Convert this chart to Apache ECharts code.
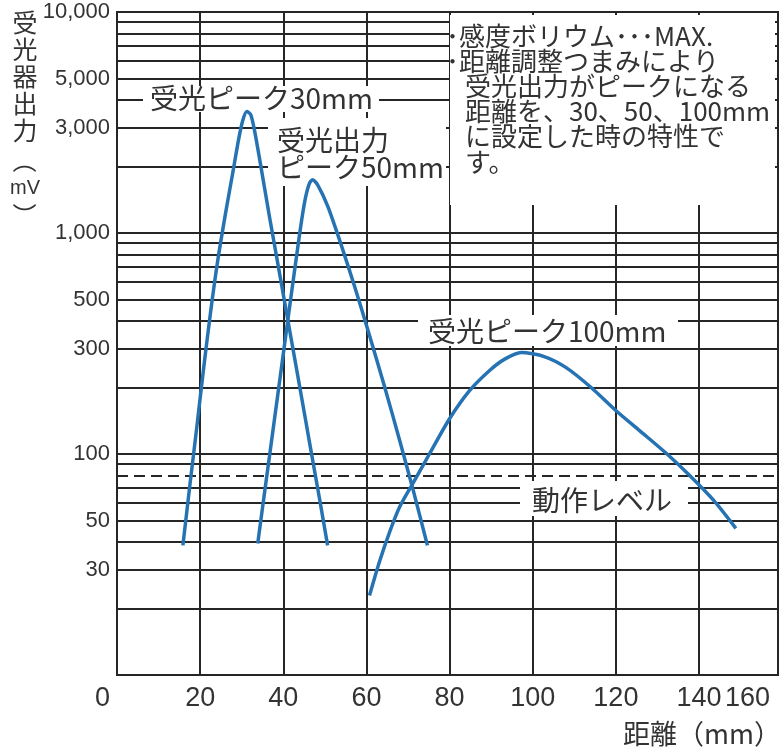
<!DOCTYPE html>
<html><head><meta charset="utf-8">
<script src="https://cdn.jsdelivr.net/npm/echarts@6/dist/echarts.min.js"></script>
<style>html,body{margin:0;padding:0;background:#fff}#c{width:784px;height:753px}</style>
</head><body><div id="c"></div>
<script>
// ---- data (distance mm, receiver output mV) ----
const dist30  = [15.85, 17.53, 19.21, 20.89, 22.57, 24.25, 26.17, 27.85, 29.29, 30.25, 31.21, 32.17, 33.13, 34.33, 36.73, 39.14, 41.54, 43.94, 46.34, 48.74, 50.66];
const out30   = [38.6, 72.3, 133, 249, 447, 754, 1246, 1874, 2673, 3228, 3545, 3436, 2877, 2147, 1170, 651, 362, 202, 112, 62.4, 38.6];
const dist50  = [33.85, 35.77, 37.7, 39.62, 41.54, 43.22, 44.42, 45.38, 46.34, 47.06, 48.26, 50.66, 53.54, 57.14, 60.74, 64.35, 67.95, 71.31, 74.67];
const out50   = [39.4, 73.1, 135.5, 251, 466, 794, 1145, 1458, 1687, 1741, 1652, 1327, 929, 574, 344, 202, 116, 67.9, 38.6];
const dist100 = [60.74, 63.15, 65.55, 67.95, 71.07, 75.15, 79.95, 84.75, 89.56, 93.16, 97.24, 102.76, 108.04, 114.05, 120.05, 126.05, 132.05, 137.58, 143.58, 148.86];
const out100  = [22.9, 32.6, 44.2, 57.4, 73.1, 100, 144, 193, 238, 268, 288, 276, 246, 200, 157, 126, 101, 80.5, 61.5, 46.1];
const operatingLevel = 80;
const yMinorGrid = [20, 30, 40, 50, 60, 70, 90, 200, 300, 400, 500, 600, 700, 800, 900, 2000, 3000, 4000, 5000, 6000, 7000, 8000, 9000];
const yExtraLabelValues = [30, 50, 300, 500, 3000, 5000];
const yExtraLabelTexts  = ['30', '50', '300', '500', '3,000', '5,000'];
const yDecadeLabelValues = [100, 1000, 10000];
const yDecadeLabelTexts  = ['100', '1,000', '10,000'];

const CJK = '"Noto Sans CJK JP", "Noto Sans CJK SC", sans-serif';
const NUM = '"Liberation Sans Narrow", "Liberation Sans", Arial, sans-serif';
const LAT = '"Liberation Sans", Arial, sans-serif';
const TXT = '#333';
const GRID = '#262626';
const BLUE = '#2673b4';

function zip(a, b) { return a.map((v, i) => [v, b[i]]); }

const chart = echarts.init(document.getElementById('c'), null, {renderer: 'canvas'});

const yLabelStyle = {color: TXT, fontFamily: NUM, fontSize: 22};

const minorLineData = yMinorGrid.map(v => {
  const k = yExtraLabelValues.indexOf(v);
  return {
    yAxis: v,
    label: k >= 0 ? Object.assign({show: true, position: 'start', distance: 7, formatter: yExtraLabelTexts[k]}, yLabelStyle) : {show: false}
  };
});

function box(x, y, w, h) {
  return {type: 'rect', shape: {x: x, y: y, width: w, height: h}, style: {fill: '#fff'}, z: 10, silent: true};
}
function txt(x, y, text, size, extra) {
  return Object.assign({
    type: 'text', x: x, y: y, z: 11, silent: true,
    style: {text: text, fill: TXT, font: size + 'px ' + CJK, textAlign: 'left', textVerticalAlign: 'middle', align: 'left', verticalAlign: 'middle'}
  }, extra || {});
}
function ctxt(x, y, text, font, rot) {
  return {type: 'text', x: x, y: y, rotation: rot || 0, z: 11, silent: true,
    style: {text: text, fill: TXT, font: font, textAlign: 'center', textVerticalAlign: 'middle', align: 'center', verticalAlign: 'middle'}};
}

const curveStyle = {color: BLUE, width: 3.5};

const option = {
  animation: false,
  backgroundColor: '#fff',
  grid: {left: 117, right: 6, top: 12, bottom: 78, show: true, borderColor: GRID, borderWidth: 2, backgroundColor: '#fff'},
  xAxis: {
    type: 'value', min: 0, max: 159, interval: 20,
    axisLine: {show: false}, axisTick: {show: false},
    splitLine: {show: true, lineStyle: {color: GRID, width: 2}},
    axisLabel: {
      color: TXT, fontFamily: LAT, fontSize: 27, margin: 10,
      alignMinLabel: 'right', alignMaxLabel: 'right',
      formatter: function (v) { if (v >= 150) return '{r|160}'; if (v === 0) return '{l|0}'; return String(v); },
      rich: {
        r: {color: TXT, fontFamily: LAT, fontSize: 27, padding: [0, 8, 0, 0]},
        l: {color: TXT, fontFamily: LAT, fontSize: 27, padding: [0, 7, 0, 0]}
      }
    }
  },
  yAxis: {
    type: 'log', logBase: 10, min: 10, max: 10000,
    axisLine: {show: false}, axisTick: {show: false},
    splitLine: {show: true, lineStyle: {color: GRID, width: 2}},
    axisLabel: Object.assign({margin: 7, formatter: function (v) {
      const k = yDecadeLabelValues.indexOf(Math.round(v));
      return k >= 0 ? yDecadeLabelTexts[k] : '';
    }}, yLabelStyle)
  },
  series: [
    {type: 'line', data: [], z: 1, silent: true,
      markLine: {silent: true, animation: false, symbol: ['none', 'none'], lineStyle: {color: GRID, width: 2, type: 'solid'}, label: {show: false}, data: minorLineData}},
    {type: 'line', data: [], z: 1, silent: true,
      markLine: {silent: true, animation: false, symbol: ['none', 'none'], lineStyle: {color: GRID, width: 2, type: [11, 6]}, label: {show: false}, data: [{yAxis: operatingLevel}]}},
    {type: 'line', name: '30mm', data: zip(dist30, out30), smooth: 0.25, symbol: 'none', z: 20, lineStyle: curveStyle},
    {type: 'line', name: '50mm', data: zip(dist50, out50), smooth: 0.25, symbol: 'none', z: 20, lineStyle: curveStyle},
    {type: 'line', name: '100mm', data: zip(dist100, out100), smooth: 0.25, symbol: 'none', z: 20, lineStyle: curveStyle}
  ],
  graphic: [
    // white boxes behind annotations
    box(450, 15, 325, 190),
    box(143, 86, 236, 26),
    box(268, 118, 178, 68),
    box(418, 315, 260, 31),
    box(520, 481, 168, 35),
    // annotation
    txt(446, 36, '･感度ボリウム･･･MAX.', 26),
    txt(446, 61, '･距離調整つまみにより', 26),
    txt(465, 86, '受光出力がピークになる', 26),
    txt(465, 111, '距離を、30、50、100mm', 26),
    txt(465, 136, 'に設定した時の特性で', 26),
    txt(465, 162, 'す。', 26),
    // curve labels
    txt(150, 98, '受光ピーク30mm', 28),
    txt(277, 140, '受光出力', 28),
    txt(277, 167, 'ピーク50mm', 28),
    txt(428, 331, '受光ピーク100mm', 28),
    txt(532, 500, '動作レベル', 28),
    // axis titles
    {type: 'text', x: 781, y: 734, z: 11, silent: true,
      style: {text: '距離（mm）', fill: TXT, font: '27px ' + CJK, textAlign: 'right', textVerticalAlign: 'middle', align: 'right', verticalAlign: 'middle'}},
    {type: 'text', x: 25, y: 9, z: 11, silent: true,
      style: {text: '受\n光\n器\n出\n力', fill: TXT, font: '25px ' + CJK, lineHeight: 27,
        textAlign: 'center', textVerticalAlign: 'top', align: 'center', verticalAlign: 'top'}},
    ctxt(25, 161, '（', '24px ' + CJK, -Math.PI / 2),
    ctxt(25, 188, 'mV', '20px ' + LAT, 0),
    ctxt(25, 215, '）', '24px ' + CJK, -Math.PI / 2)
  ]
};
chart.setOption(option);
</script>
</body></html>
